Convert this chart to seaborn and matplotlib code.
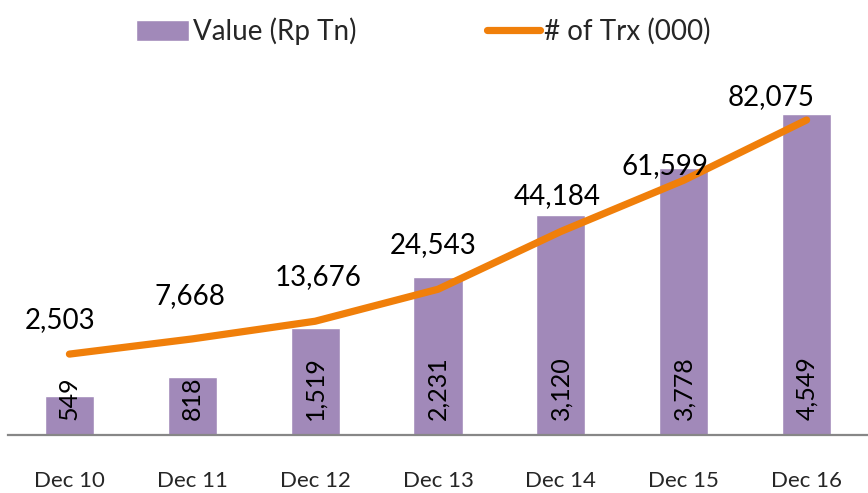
import matplotlib
matplotlib.use("Agg")
import matplotlib.pyplot as plt
import seaborn as sns
import pandas as pd

# Data
periods = ["Dec 10", "Dec 11", "Dec 12", "Dec 13", "Dec 14", "Dec 15", "Dec 16"]
value_rp_tn = [549, 818, 1519, 2231, 3120, 3778, 4549]
trx_000 = [2503, 7668, 13676, 24543, 44184, 61599, 82075]

BAR_COLOR = "#A189B9"
LINE_COLOR = "#F07F0A"
FONT = ["Lato", "DejaVu Sans"]

sns.set_theme(style="white")
plt.rcParams["font.family"] = FONT

df = pd.DataFrame({"period": periods, "value": value_rp_tn, "trx": trx_000})

fig = plt.figure(figsize=(8.68, 4.93), dpi=100)
ax = fig.add_axes([8 / 868, 58 / 493, 860 / 868, 353 / 493])

sns.barplot(data=df, x="period", y="value", color=BAR_COLOR, width=0.4,
            saturation=1, ax=ax, label="Value (Rp Tn)")
ax.set_ylim(0, 5000)
ax.set_xlim(-0.5, 6.5)

ax2 = ax.twinx()
sns.lineplot(data=df, x="period", y="trx", color=LINE_COLOR, linewidth=5.2,
             sort=False, ax=ax2, label="# of Trx (000)",
             solid_capstyle="round")
ax2.set_ylim(-25000, 95000)
ax2.set_xlim(-0.5, 6.5)

# Bar value labels, rotated inside the bars
for i, v in enumerate(value_rp_tn):
    ax.annotate(f"{v:,}", xy=(i, 0), xytext=(0, 11), textcoords="offset points",
                rotation=90, ha="center", va="bottom", fontsize=18, color="black")

# Line value labels above the points (offsets in pixels)
label_dx = [-9, -2, 3, -5, -4, -19, -36]
label_dy = [34, 43, 44, 44, 35, 14, 23]
for i, v in enumerate(trx_000):
    ax2.annotate(f"{v:,}", xy=(i, v), xytext=(label_dx[i] * 0.72, label_dy[i] * 0.72),
                 textcoords="offset points", ha="center", va="center",
                 fontsize=20, color="black")

for a in (ax, ax2):
    for s in ("left", "right", "top"):
        a.spines[s].set_visible(False)
    a.set_ylabel("")
    a.set_xlabel("")
    a.set_yticks([])
ax.spines["bottom"].set_color("#878787")
ax.spines["bottom"].set_linewidth(1.6)
ax2.spines["bottom"].set_visible(False)
ax.tick_params(axis="x", length=0, pad=26, labelsize=16)
ax2.tick_params(axis="x", bottom=False, labelbottom=False)

if ax.get_legend():
    ax.get_legend().remove()
if ax2.get_legend():
    ax2.get_legend().remove()
h1, l1 = ax.get_legend_handles_labels()
h2, l2 = ax2.get_legend_handles_labels()
fig.legend(h1 + h2, l1 + l2, loc="upper center", bbox_to_anchor=(0.488, 1.015),
           ncol=2, frameon=False, fontsize=20, handlelength=1.9,
           handleheight=0.8, handletextpad=0.15, columnspacing=4.7)

fig.savefig("out.png", dpi=100)
